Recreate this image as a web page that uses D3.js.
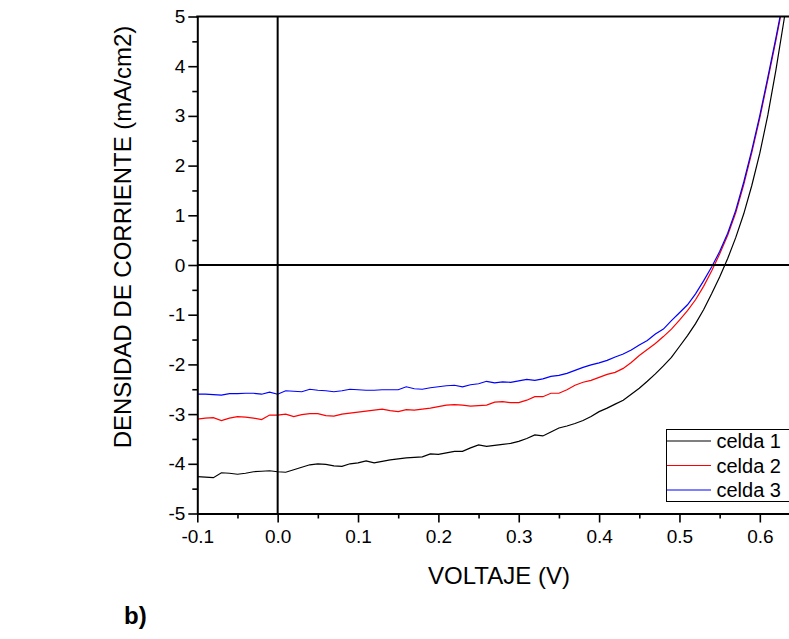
<!DOCTYPE html>
<html>
<head>
<meta charset="utf-8">
<script src="https://cdnjs.cloudflare.com/ajax/libs/d3/7.8.5/d3.min.js"></script>
<style>
  body { margin: 0; background: #fff; }
  text { font-family: "Liberation Sans", Arial, sans-serif; fill: #000; }
</style>
</head>
<body>
<div id="chart"></div>
<script>
// voltage grid (V)
var voltaje = [-0.10, -0.09, -0.08, -0.07, -0.06, -0.05, -0.04, -0.03, -0.02, -0.01,
    0.00, 0.01, 0.02, 0.03, 0.04, 0.05, 0.06, 0.07, 0.08, 0.09,
    0.10, 0.11, 0.12, 0.13, 0.14, 0.15, 0.16, 0.17, 0.18, 0.19,
    0.20, 0.21, 0.22, 0.23, 0.24, 0.25, 0.26, 0.27, 0.28, 0.29,
    0.30, 0.31, 0.32, 0.33, 0.34, 0.35, 0.36, 0.37, 0.38, 0.39,
    0.40, 0.41, 0.42, 0.43, 0.44, 0.45, 0.46, 0.47, 0.48, 0.49,
    0.50, 0.51, 0.52, 0.53, 0.54, 0.55, 0.56, 0.57, 0.58, 0.59,
    0.60, 0.61, 0.62, 0.63, 0.64];

// current density (mA/cm2)
var celda1 = [-4.26, -4.27, -4.28, -4.18, -4.19, -4.21, -4.19, -4.16, -4.15, -4.14,
    -4.16, -4.17, -4.12, -4.07, -4.02, -4.00, -4.01, -4.04, -4.05, -4.00,
    -3.98, -3.94, -3.98, -3.95, -3.92, -3.90, -3.88, -3.87, -3.86, -3.80,
    -3.81, -3.78, -3.75, -3.75, -3.68, -3.62, -3.65, -3.63, -3.61, -3.59,
    -3.55, -3.49, -3.42, -3.44, -3.36, -3.28, -3.24, -3.19, -3.13, -3.05,
    -2.95, -2.88, -2.80, -2.72, -2.60, -2.48, -2.34, -2.19, -2.03, -1.86,
    -1.64, -1.42, -1.18, -0.90, -0.58, -0.24, 0.13, 0.55, 1.03, 1.60,
    2.25, 3.02, 3.92, 4.92, 6.00];

var celda2 = [-3.10, -3.08, -3.07, -3.13, -3.08, -3.05, -3.06, -3.08, -3.11, -3.02,
    -3.02, -3.00, -3.05, -3.01, -2.99, -2.99, -3.03, -3.04, -3.00, -2.98,
    -2.96, -2.94, -2.92, -2.90, -2.93, -2.95, -2.91, -2.92, -2.90, -2.88,
    -2.85, -2.82, -2.81, -2.82, -2.84, -2.83, -2.82, -2.76, -2.75, -2.77,
    -2.77, -2.72, -2.65, -2.65, -2.58, -2.58, -2.51, -2.42, -2.36, -2.32,
    -2.26, -2.20, -2.16, -2.08, -1.96, -1.82, -1.70, -1.58, -1.44, -1.29,
    -1.11, -0.92, -0.70, -0.43, -0.12, 0.22, 0.60, 1.05, 1.62, 2.26,
    2.96, 3.73, 4.52, 5.35, 6.25];

var celda3 = [-2.60, -2.60, -2.61, -2.62, -2.59, -2.59, -2.58, -2.58, -2.60, -2.56,
    -2.60, -2.53, -2.54, -2.55, -2.50, -2.52, -2.53, -2.55, -2.53, -2.50,
    -2.51, -2.52, -2.52, -2.51, -2.51, -2.51, -2.45, -2.49, -2.50, -2.47,
    -2.45, -2.43, -2.42, -2.45, -2.41, -2.39, -2.34, -2.37, -2.35, -2.36,
    -2.33, -2.30, -2.32, -2.29, -2.24, -2.22, -2.18, -2.12, -2.06, -2.01,
    -1.97, -1.92, -1.85, -1.79, -1.71, -1.61, -1.52, -1.39, -1.29, -1.12,
    -0.96, -0.80, -0.58, -0.32, -0.04, 0.27, 0.64, 1.10, 1.67, 2.31,
    3.01, 3.78, 4.57, 5.40, 6.30];

var seriesNames = ["celda 1", "celda 2", "celda 3"];
var seriesColors = ["#000000", "#ff0000", "#0000ff"];

var xTicks = [-0.1, 0.0, 0.1, 0.2, 0.3, 0.4, 0.5, 0.6];
var xMinorTicks = [-0.05, 0.05, 0.15, 0.25, 0.35, 0.45, 0.55];
var yTicks = [-5, -4, -3, -2, -1, 0, 1, 2, 3, 4, 5];
var yMinorTicks = [-4.5, -3.5, -2.5, -1.5, -0.5, 0.5, 1.5, 2.5, 3.5, 4.5];

var width = 789;
var height = 639;

var svg = d3
    .select("#chart")
    .append("svg")
    .attr("width", width)
    .attr("height", height);

var xScale = d3.scaleLinear().domain([-0.1, 0.6363]).range([197.3, 789]);
var yScale = d3.scaleLinear().domain([-5, 5]).range([513.5, 16.5]);

// plain hyphen for negatives, like the original plot
function hyphen(fmt) {
    var f = d3.format(fmt);
    return function(d) { return f(d).replace("\u2212", "-"); };
}

// clip so the curves stop at the top of the frame
svg.append("clipPath")
    .attr("id", "plotClip")
    .append("rect")
    .attr("x", xScale(-0.1))
    .attr("y", yScale(5))
    .attr("width", xScale.range()[1] - xScale(-0.1))
    .attr("height", yScale(-5) - yScale(5));

// curves
var line = d3.line()
    .x(function(d) { return xScale(d[0]); })
    .y(function(d) { return yScale(d[1]); });

var allSeries = [celda1, celda2, celda3];

svg.append("g")
    .attr("clip-path", "url(#plotClip)")
    .selectAll("path")
    .data(allSeries)
    .enter()
    .append("path")
    .attr("d", function(s) {
        return line(voltaje.map(function(v, i) { return [v, s[i]]; }));
    })
    .attr("fill", "none")
    .attr("stroke", function(s, i) { return seriesColors[i]; })
    .attr("stroke-width", 1.2);

// zero lines
svg.append("line")
    .attr("x1", xScale(0)).attr("x2", xScale(0))
    .attr("y1", yScale(5)).attr("y2", yScale(-5))
    .attr("stroke", "#000").attr("stroke-width", 2);
svg.append("line")
    .attr("x1", xScale(-0.1)).attr("x2", width)
    .attr("y1", yScale(0)).attr("y2", yScale(0))
    .attr("stroke", "#000").attr("stroke-width", 2);

// top frame line
svg.append("line")
    .attr("x1", xScale(-0.1) - 1).attr("x2", width)
    .attr("y1", yScale(5)).attr("y2", yScale(5))
    .attr("stroke", "#000").attr("stroke-width", 2);

// x axis
var xAxis = d3.axisBottom(xScale)
    .tickValues(xTicks)
    .tickSize(9)
    .tickSizeOuter(0)
    .tickPadding(7)
    .tickFormat(hyphen(".1f"));

svg.append("g")
    .attr("class", "xAxis")
    .attr("transform", "translate(0," + yScale(-5) + ")")
    .call(xAxis);

var xMinor = d3.axisBottom(xScale).tickValues(xMinorTicks).tickSize(5).tickFormat("");
svg.append("g")
    .attr("class", "minor")
    .attr("transform", "translate(0," + yScale(-5) + ")")
    .call(xMinor)
    .call(function(g) { g.select(".domain").remove(); });

// y axis
var yAxis = d3.axisLeft(yScale)
    .tickValues(yTicks)
    .tickSize(9)
    .tickSizeOuter(0)
    .tickPadding(3)
    .tickFormat(hyphen("d"));

svg.append("g")
    .attr("class", "yAxis")
    .attr("transform", "translate(" + xScale(-0.1) + ",0)")
    .call(yAxis);

var yMinor = d3.axisLeft(yScale).tickValues(yMinorTicks).tickSize(5).tickFormat("");
svg.append("g")
    .attr("class", "minor")
    .attr("transform", "translate(" + xScale(-0.1) + ",0)")
    .call(yMinor)
    .call(function(g) { g.select(".domain").remove(); });

svg.selectAll(".xAxis .domain, .yAxis .domain")
    .attr("stroke", "#000")
    .attr("stroke-width", 2);
svg.selectAll(".tick line")
    .attr("stroke", "#000")
    .attr("stroke-width", 1.6);
svg.selectAll(".tick text")
    .attr("font-size", 19)
    .attr("fill", "#000");

// axis titles
svg.append("text")
    .attr("x", 499)
    .attr("y", 584)
    .attr("text-anchor", "middle")
    .attr("font-size", 24)
    .text("VOLTAJE (V)");

svg.append("text")
    .attr("transform", "translate(131,237)rotate(-90)")
    .attr("text-anchor", "middle")
    .attr("font-size", 24)
    .text("DENSIDAD DE CORRIENTE (mA/cm2)");

svg.append("text")
    .attr("x", 124)
    .attr("y", 624)
    .attr("font-size", 24)
    .attr("font-weight", "bold")
    .text("b)");

// legend
var legend = svg.append("g").attr("class", "legend");
legend.append("rect")
    .attr("x", 666.5)
    .attr("y", 429.5)
    .attr("width", 130)
    .attr("height", 72)
    .attr("fill", "#fff")
    .attr("stroke", "#000")
    .attr("stroke-width", 1);

var legendRows = legend.selectAll("g.row")
    .data(seriesNames)
    .enter()
    .append("g")
    .attr("class", "row")
    .attr("transform", function(d, i) { return "translate(0," + (441 + i * 24.5) + ")"; });

legendRows.append("line")
    .attr("x1", 667).attr("x2", 711)
    .attr("y1", 0).attr("y2", 0)
    .attr("stroke", function(d, i) { return seriesColors[i]; })
    .attr("stroke-width", 1.2);

legendRows.append("text")
    .attr("x", 716.5)
    .attr("y", 7)
    .attr("font-size", 20)
    .text(function(d) { return d; });
</script>
</body>
</html>
